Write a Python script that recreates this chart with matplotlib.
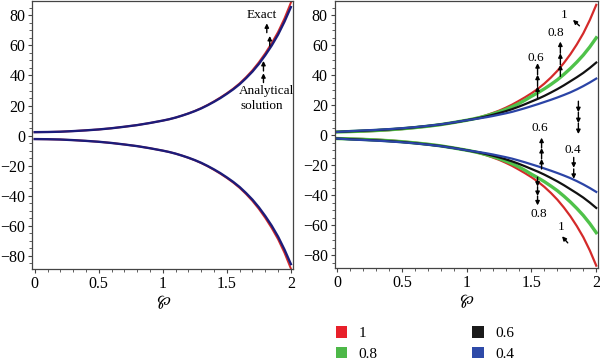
import numpy as np
import matplotlib
matplotlib.use('Agg')
import matplotlib.pyplot as plt
from matplotlib.patches import Patch
from matplotlib.ticker import MultipleLocator

plt.rcParams['font.family'] = ['Liberation Serif', 'STIXGeneral', 'DejaVu Sans']
plt.rcParams['font.size'] = 9.5

# valori (ramura pozitiva)
x = [0.0, 0.1, 0.2, 0.3, 0.4, 0.5, 0.6, 0.7, 0.8, 0.9,
     1.0, 1.05, 1.1, 1.15, 1.2, 1.25, 1.3, 1.35, 1.4, 1.45,
     1.5, 1.55, 1.6, 1.65, 1.7, 1.75, 1.8, 1.85, 1.9, 1.95, 2.0]

u_10 = [2.2, 2.3, 2.5, 2.9, 3.4, 4.1, 4.9, 5.9, 7.0, 8.4,
        10.0, 10.9, 12.0, 13.3, 14.8, 16.4, 18.3, 20.4, 22.8, 25.3,
        28.0, 31.0, 34.5, 38.5, 43.0, 48.2, 54.0, 60.6, 68.0, 76.8, 87.0]
u_08 = [2.2, 2.45, 2.75, 3.15, 3.65, 4.3, 5.1, 6.0, 7.1, 8.5,
        10.0, 10.85, 11.8, 12.95, 14.2, 15.6, 17.2, 19.0, 21.0, 23.4,
        26.0, 28.4, 31.0, 33.9, 37.0, 40.6, 44.5, 48.8, 53.5, 58.9, 65.0]
u_06 = [2.2, 2.6, 3.0, 3.4, 3.9, 4.5, 5.3, 6.2, 7.2, 8.5,
        10.0, 10.8, 11.6, 12.55, 13.6, 14.75, 16.0, 17.4, 19.0, 20.7,
        22.5, 24.3, 26.3, 28.5, 30.8, 33.3, 36.0, 38.7, 41.6, 44.9, 48.5]
u_04 = [2.2, 2.8, 3.2, 3.6, 4.1, 4.7, 5.4, 6.3, 7.3, 8.6,
        10.0, 10.65, 11.3, 12.0, 12.8, 13.7, 14.6, 15.6, 16.8, 18.05,
        19.4, 20.75, 22.2, 23.65, 25.2, 26.85, 28.6, 30.6, 32.8, 35.2, 37.8]

# panoul din stanga: exact vs solutie analitica
u_exact = [2.3, 2.4, 2.6, 3.0, 3.5, 4.1, 4.9, 5.9, 7.0, 8.4,
           10.0, 10.9, 12.0, 13.3, 14.8, 16.4, 18.3, 20.4, 22.8, 25.4,
           28.2, 31.3, 34.8, 38.9, 43.5, 48.8, 54.8, 61.5, 69.0, 78.0, 88.5]
u_anal = [2.3, 2.4, 2.6, 3.0, 3.5, 4.1, 4.9, 5.9, 7.0, 8.4,
          10.0, 10.9, 12.0, 13.3, 14.7, 16.3, 18.1, 20.2, 22.5, 25.0,
          27.8, 30.8, 34.2, 38.2, 42.6, 47.7, 53.5, 59.9, 67.2, 75.8, 85.5]

alfa = ['1', '0.8', '0.6', '0.4']
culori = ['#d42a2a', '#4fc24a', '#111111', '#2b44a6']
grosimi = [1.6, 2.4, 1.6, 1.6]


def stil_axe(ax):
    ax.set_xlim(-0.018, 2.015)
    ax.set_ylim(-88.5, 89.5)
    ax.xaxis.set_minor_locator(MultipleLocator(0.1))
    ax.yaxis.set_minor_locator(MultipleLocator(5))
    ax.set_xticks([0, 0.5, 1, 1.5, 2])
    ax.set_xticklabels(['0', '0.5', '1', '1.5', '2'])
    ax.set_yticks(np.arange(-80, 81, 20))
    ax.set_yticklabels([str(v).replace('-', '\u2212') for v in range(-80, 81, 20)])
    ax.tick_params(which='major', length=3, width=0.8, color='#444444',
                   pad=2, labelsize=11.5)
    ax.tick_params(which='minor', length=2, width=0.6, color='#444444')
    for s in ax.spines.values():
        s.set_color('#444444')
        s.set_linewidth(0.9)
    ax.set_xlabel('\u2118', fontsize=12, family='STIXGeneral', labelpad=1)


def sageata(ax, x0, y0, x1, y1):
    ax.annotate('', xy=(x1, y1), xytext=(x0, y0),
                arrowprops=dict(arrowstyle='-|>', color='k', lw=1.0,
                                mutation_scale=6, shrinkA=0, shrinkB=0))


fig = plt.figure(figsize=(6, 3.64), dpi=100)
ax1 = fig.add_axes([0.054, 0.262, 0.434, 0.735])
ax2 = fig.add_axes([0.558, 0.264, 0.439, 0.733])

# stanga
ax1.plot(x, u_exact, color='#d42a2a', lw=1.4)
ax1.plot(x, -np.array(u_exact), color='#d42a2a', lw=1.4)
ax1.plot(x, u_anal, color='#1c1c7a', lw=1.7)
ax1.plot(x, -np.array(u_anal), color='#1c1c7a', lw=1.7)
stil_axe(ax1)
ax1.text(1.77, 80.5, 'Exact', ha='center', va='center')
sageata(ax1, 1.812, 68.5, 1.812, 74.7)
sageata(ax1, 1.835, 59.6, 1.835, 66.3)
sageata(ax1, 1.786, 43.0, 1.786, 49.7)
sageata(ax1, 1.786, 35.3, 1.786, 41.5)
ax1.text(1.81, 30.0, 'Analytical', ha='center', va='center')
ax1.text(1.77, 19.5, 'solution', ha='center', va='center')

# dreapta
for u, c, w in zip([u_10, u_08, u_06, u_04], culori, grosimi):
    ax2.plot(x, u, color=c, lw=w)
    ax2.plot(x, -np.array(u), color=c, lw=w)
stil_axe(ax2)

ax2.text(1.754, 80, '1', ha='center', va='center')
sageata(ax2, 1.87, 73, 1.82, 77)
ax2.text(1.69, 68, '0.8', ha='center', va='center')
sageata(ax2, 1.723, 39.3, 1.723, 47.0)
sageata(ax2, 1.723, 47.0, 1.723, 54.7)
sageata(ax2, 1.723, 54.7, 1.723, 62.5)
ax2.text(1.534, 51.4, '0.6', ha='center', va='center')
sageata(ax2, 1.547, 24.9, 1.547, 32.6)
sageata(ax2, 1.547, 32.6, 1.547, 40.4)
sageata(ax2, 1.547, 40.4, 1.547, 48.1)

sageata(ax2, 1.862, 22.7, 1.862, 15.4)
sageata(ax2, 1.862, 15.4, 1.862, 8.1)
sageata(ax2, 1.862, 8.1, 1.862, 0.8)
ax2.text(1.819, -9.7, '0.4', ha='center', va='center')
sageata(ax2, 1.826, -14.8, 1.826, -21.7)
sageata(ax2, 1.826, -22.5, 1.826, -29.1)

ax2.text(1.567, 5, '0.6', ha='center', va='center')
sageata(ax2, 1.578, -22.5, 1.578, -15.8)
sageata(ax2, 1.578, -15.8, 1.578, -8.5)
sageata(ax2, 1.578, -8.5, 1.578, -1.6)
sageata(ax2, 1.547, -28.0, 1.547, -34.3)
sageata(ax2, 1.547, -34.3, 1.547, -40.5)
sageata(ax2, 1.547, -40.5, 1.547, -46.8)
ax2.text(1.56, -52.3, '0.8', ha='center', va='center')
ax2.text(1.728, -61, '1', ha='center', va='center')
sageata(ax2, 1.78, -71.8, 1.736, -67.4)

handles = [Patch(facecolor=c, edgecolor='none') for c in ['#e8202a', '#4db848', '#1a1a1a', '#2e4aa8']]
fig.legend(handles, alfa, ncol=2, frameon=False, loc='upper left',
           bbox_to_anchor=(0.549, 0.12), handlelength=0.75, handleheight=0.75,
           handletextpad=0.75, columnspacing=6.2, labelspacing=0.45,
           borderaxespad=0, fontsize=11)

fig.savefig('out.png', dpi=100)
